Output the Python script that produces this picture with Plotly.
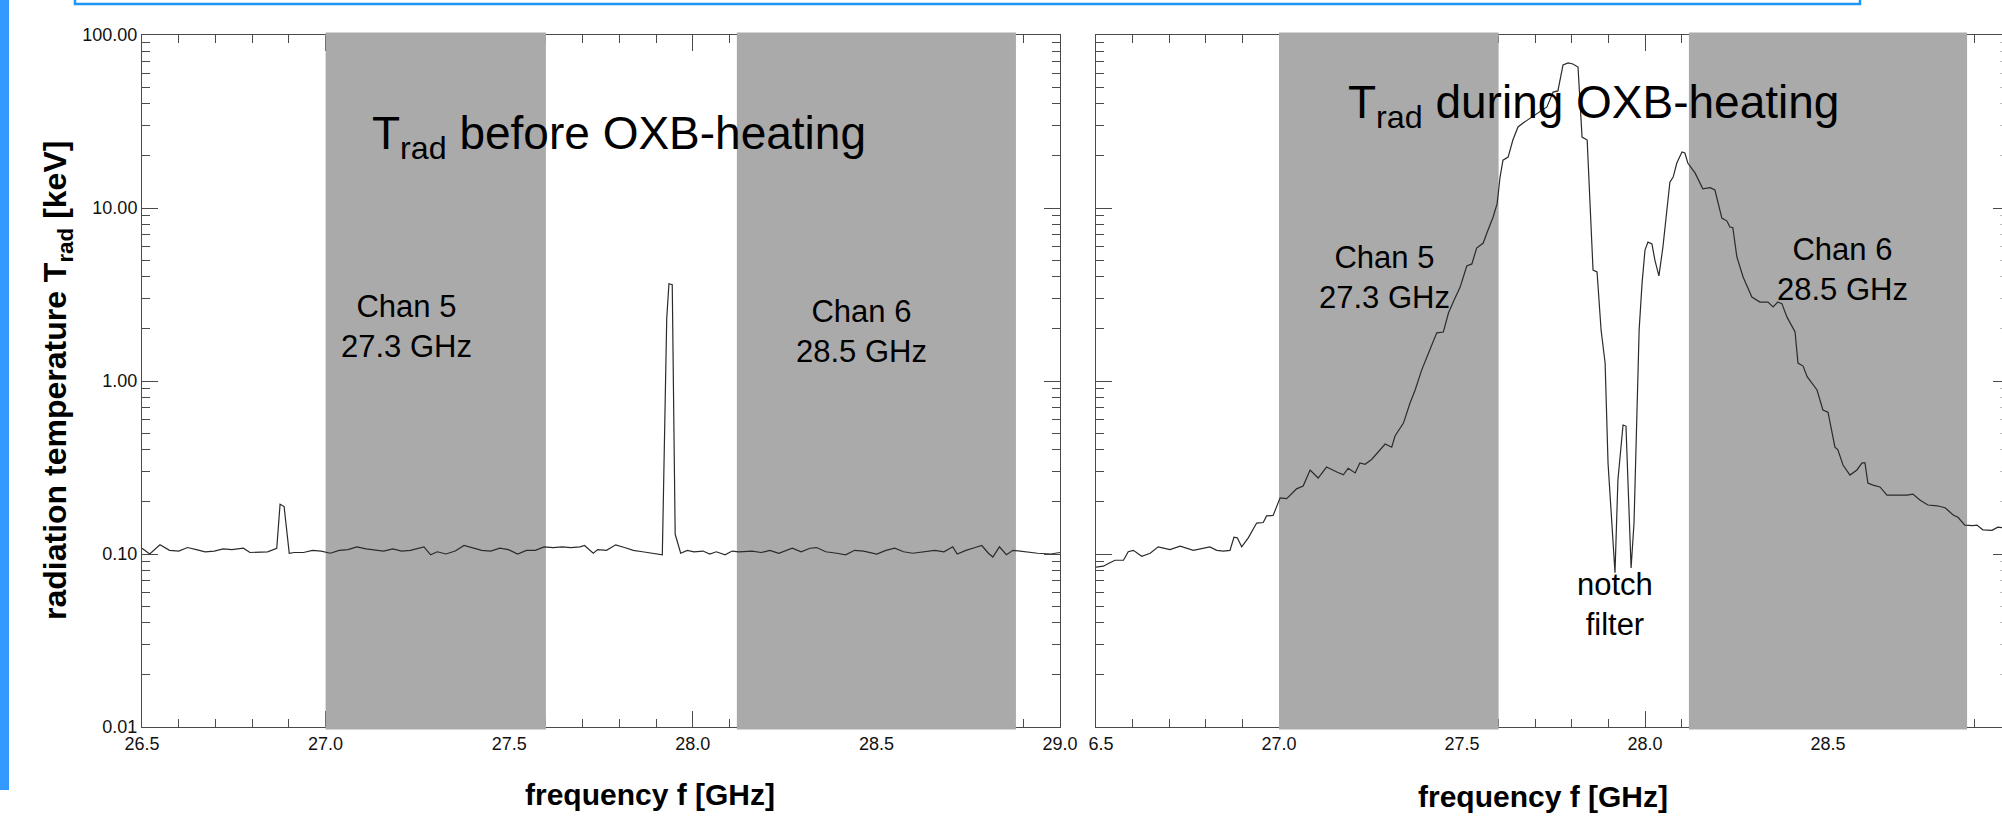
import plotly.graph_objects as go

# ---------------------------------------------------------------------------
# Radiometer spectra: radiation temperature vs. frequency
# ---------------------------------------------------------------------------
freq_before = [
    26.500, 26.521, 26.549, 26.575, 26.600, 26.624, 26.648, 26.672, 26.697, 26.721,
    26.745, 26.776, 26.794, 26.818, 26.842, 26.867, 26.876, 26.887, 26.901, 26.915,
    26.940, 26.964, 26.988, 27.013, 27.037, 27.061, 27.085, 27.110, 27.134, 27.158,
    27.183, 27.207, 27.231, 27.255, 27.268, 27.286, 27.304, 27.328, 27.353, 27.377,
    27.401, 27.425, 27.450, 27.474, 27.498, 27.523, 27.547, 27.571, 27.595, 27.620,
    27.644, 27.668, 27.693, 27.705, 27.729, 27.741, 27.765, 27.790, 27.814, 27.838,
    27.863, 27.887, 27.917, 27.929, 27.935, 27.944, 27.952, 27.967, 27.985, 28.003,
    28.028, 28.046, 28.064, 28.088, 28.107, 28.125, 28.161, 28.186, 28.210, 28.234,
    28.271, 28.295, 28.319, 28.337, 28.362, 28.392, 28.416, 28.441, 28.465, 28.501,
    28.526, 28.550, 28.574, 28.599, 28.635, 28.659, 28.684, 28.708, 28.720, 28.744,
    28.769, 28.787, 28.805, 28.817, 28.835, 28.854, 28.872, 28.902, 28.939, 28.975,
    29.000,
]
trad_before = [
    0.108, 0.100, 0.113, 0.105, 0.104, 0.109, 0.106, 0.103, 0.104, 0.107,
    0.106, 0.108, 0.102, 0.103, 0.103, 0.108, 0.194, 0.188, 0.101, 0.102,
    0.102, 0.105, 0.104, 0.101, 0.105, 0.106, 0.110, 0.107, 0.105, 0.104,
    0.107, 0.104, 0.105, 0.108, 0.110, 0.099, 0.103, 0.100, 0.104, 0.112,
    0.109, 0.105, 0.104, 0.108, 0.106, 0.100, 0.105, 0.105, 0.110, 0.109,
    0.110, 0.109, 0.110, 0.112, 0.101, 0.106, 0.105, 0.113, 0.109, 0.105,
    0.103, 0.101, 0.099, 2.300, 3.650, 3.600, 0.130, 0.101, 0.105, 0.103,
    0.104, 0.100, 0.103, 0.099, 0.104, 0.103, 0.104, 0.102, 0.105, 0.101,
    0.108, 0.103, 0.108, 0.109, 0.103, 0.101, 0.099, 0.105, 0.104, 0.100,
    0.105, 0.108, 0.103, 0.101, 0.104, 0.105, 0.103, 0.110, 0.100, 0.105,
    0.109, 0.112, 0.101, 0.096, 0.110, 0.099, 0.105, 0.103, 0.101, 0.100,
    0.102,
]

freq_during = [
    26.500, 26.520, 26.538, 26.552, 26.575, 26.588, 26.602, 26.625, 26.648, 26.670,
    26.702, 26.730, 26.766, 26.784, 26.811, 26.830, 26.848, 26.866, 26.877, 26.886,
    26.898, 26.916, 26.939, 26.957, 26.966, 26.984, 27.003, 27.021, 27.048, 27.066,
    27.085, 27.107, 27.130, 27.158, 27.176, 27.189, 27.208, 27.221, 27.235, 27.253,
    27.271, 27.290, 27.308, 27.317, 27.340, 27.358, 27.372, 27.390, 27.413, 27.431,
    27.449, 27.463, 27.476, 27.495, 27.513, 27.527, 27.540, 27.558, 27.568, 27.585,
    27.596, 27.604, 27.612, 27.626, 27.639, 27.653, 27.667, 27.686, 27.708, 27.732,
    27.749, 27.762, 27.776, 27.790, 27.803, 27.817, 27.828, 27.842, 27.858, 27.869,
    27.880, 27.891, 27.899, 27.910, 27.918, 27.926, 27.940, 27.948, 27.954, 27.962,
    27.970, 27.978, 27.984, 27.992, 28.000, 28.008, 28.019, 28.027, 28.038, 28.049,
    28.068, 28.077, 28.087, 28.101, 28.109, 28.117, 28.137, 28.158, 28.178, 28.191,
    28.210, 28.224, 28.232, 28.240, 28.251, 28.268, 28.292, 28.314, 28.336, 28.350,
    28.363, 28.374, 28.388, 28.410, 28.418, 28.432, 28.443, 28.470, 28.486, 28.500,
    28.519, 28.527, 28.541, 28.560, 28.579, 28.593, 28.601, 28.609, 28.623, 28.642,
    28.661, 28.689, 28.716, 28.732, 28.751, 28.773, 28.798, 28.820, 28.842, 28.855,
    28.874, 28.896, 28.907, 28.923, 28.948, 28.964, 28.975, 29.000,
]
trad_during = [
    0.084, 0.085, 0.089, 0.092, 0.092, 0.103, 0.105, 0.097, 0.101, 0.110,
    0.106, 0.111, 0.105, 0.107, 0.110, 0.105, 0.104, 0.105, 0.125, 0.124,
    0.110, 0.124, 0.151, 0.152, 0.166, 0.167, 0.211, 0.209, 0.238, 0.247,
    0.306, 0.275, 0.318, 0.298, 0.287, 0.313, 0.294, 0.336, 0.330, 0.352,
    0.389, 0.432, 0.414, 0.481, 0.571, 0.746, 0.887, 1.16, 1.53, 1.90,
    1.92, 2.47, 2.86, 3.49, 4.62, 4.75, 5.87, 6.27, 7.17, 8.87,
    10.6, 15.1, 18.9, 19.7, 24.7, 29.4, 31.0, 33.1, 35.4, 38.4,
    46.8, 47.5, 67.1, 68.9, 68.0, 65.3, 25.7, 24.7, 4.38, 4.27,
    1.97, 1.27, 0.336, 0.138, 0.078, 0.268, 0.557, 0.549, 0.268, 0.083,
    0.151, 0.653, 1.97, 3.68, 5.71, 6.35, 6.20, 5.00, 4.05, 5.95,
    14.1, 15.1, 18.2, 21.1, 20.8, 18.2, 15.9, 12.9, 13.1, 12.7,
    8.75, 8.40, 7.76, 7.70, 5.21, 3.99, 3.06, 2.86, 2.86, 2.68,
    2.86, 2.80, 2.34, 1.92, 1.27, 1.22, 1.06, 0.887, 0.680, 0.660,
    0.415, 0.400, 0.327, 0.286, 0.306, 0.336, 0.336, 0.257, 0.250, 0.244,
    0.219, 0.219, 0.219, 0.222, 0.205, 0.192, 0.190, 0.185, 0.168, 0.163,
    0.147, 0.146, 0.147, 0.138, 0.137, 0.143, 0.142, 0.140,
]

# Receiver channel passbands (GHz)
band_start = [27.0, 28.12]
band_end = [27.6, 28.88]

x_ticks = [26.5, 27.0, 27.5, 28.0, 28.5, 29.0]
y_ticks = [0.01, 0.1, 1, 10, 100]
y_tick_text = ["0.01", "0.10", "1.00", "10.00", "100.00"]
y_minor = [k * 10.0 ** e for e in range(-2, 2) for k in range(2, 10)]

# ---------------------------------------------------------------------------
W, H = 2002, 818
FONT = "Liberation Sans, Arial, Helvetica, sans-serif"
BAND = "#aaaaaa"
LINE = "#2b2b2b"
AX = "#4a4a4a"


def px(x):
    return x / W


def py(y):
    return 1 - y / H


y_dom = [py(727), py(35)]
left_dom = [px(142), px(1060)]
right_dom = [px(1096), 1.0]
right_xmax = 26.5 + (W - 1096) / 366.0

fig = go.Figure()

# grey passbands, drawn as filled traces so the curve sits on top of them
for xa, ya in (("x", "y"), ("x2", "y2")):
    for b0, b1 in zip(band_start, band_end):
        fig.add_trace(go.Scatter(
            x=[b0, b1, b1, b0, b0], y=[0.01, 0.01, 100, 100, 0.01],
            mode="lines", fill="toself", fillcolor=BAND,
            line=dict(width=0, color=BAND), hoverinfo="skip",
            showlegend=False, xaxis=xa, yaxis=ya))

fig.add_trace(go.Scatter(x=freq_before, y=trad_before, mode="lines",
                         line=dict(color=LINE, width=1.2), showlegend=False,
                         xaxis="x", yaxis="y"))
fig.add_trace(go.Scatter(x=freq_during, y=trad_during, mode="lines",
                         line=dict(color=LINE, width=1.2), showlegend=False,
                         xaxis="x2", yaxis="y2"))
# empty trace that carries the right-hand tick axis of the second panel
fig.add_trace(go.Scatter(x=[], y=[], showlegend=False, xaxis="x2", yaxis="y3"))

tickfont = dict(family=FONT, size=18, color="#111111")


def xaxis(domain, anchor, rng):
    return dict(
        domain=domain, anchor=anchor, range=rng, tickvals=x_ticks,
        tickformat=".1f", ticks="inside", ticklen=16, tickwidth=1, tickcolor=AX,
        minor=dict(dtick=0.1, tick0=26.5, ticks="inside", ticklen=8,
                   tickwidth=1, tickcolor=AX),
        showline=True, linecolor=AX, linewidth=1, mirror="ticks",
        showgrid=False, zeroline=False, tickfont=tickfont,
        layer="below traces", fixedrange=True, automargin=False)


def yaxis(anchor, labels, mirror):
    return dict(
        domain=y_dom, anchor=anchor, type="log", range=[-2, 2],
        tickvals=y_ticks, ticktext=y_tick_text, showticklabels=labels,
        ticks="inside", ticklen=16, tickwidth=1, tickcolor=AX,
        minor=dict(tickvals=y_minor, ticks="inside", ticklen=8,
                   tickwidth=1, tickcolor=AX),
        showline=True, linecolor=AX, linewidth=1, mirror=mirror,
        showgrid=False, zeroline=False, tickfont=tickfont,
        layer="below traces", fixedrange=True, automargin=False)


title_font = dict(family=FONT, size=46, color="#000000")
label_font = dict(family=FONT, size=31, color="#000000")
axis_font = dict(family=FONT, size=30, color="#000000")

annotations = [
    dict(text="T<sub>rad</sub> before OXB-heating", x=27.80, xref="x",
         y=py(136), yref="paper", font=title_font),
    dict(text="T<sub>rad</sub> during OXB-heating", x=27.86, xref="x2",
         y=py(106), yref="paper", font=title_font),
    dict(text="Chan 5<br>27.3 GHz", x=27.22, xref="x", y=py(326), yref="paper",
         font=label_font),
    dict(text="Chan 6<br>28.5 GHz", x=28.46, xref="x", y=py(331), yref="paper",
         font=label_font),
    dict(text="Chan 5<br>27.3 GHz", x=27.287, xref="x2", y=py(277), yref="paper",
         font=label_font),
    dict(text="Chan 6<br>28.5 GHz", x=28.54, xref="x2", y=py(269), yref="paper",
         font=label_font),
    dict(text="notch<br>filter", x=27.918, xref="x2", y=py(604), yref="paper",
         font=label_font),
    dict(text="<b>frequency f [GHz]</b>", x=px(650), xref="paper",
         y=py(794), yref="paper", font=axis_font),
    dict(text="<b>frequency f [GHz]</b>", x=px(1543), xref="paper",
         y=py(796), yref="paper", font=axis_font),
    dict(text="<b>radiation temperature T<sub>rad</sub> [keV]</b>", x=px(58),
         xref="paper", y=py(381), yref="paper", textangle=-90,
         font=dict(family=FONT, size=32, color="#000000")),
]
for a in annotations:
    a.update(showarrow=False, xanchor="center", yanchor="middle")

shapes = [
    # blue slide frame pieces
    dict(type="rect", xref="paper", yref="paper", x0=-0.01, x1=px(9),
         y0=py(790), y1=1.05, fillcolor="#3399ff", line=dict(width=0),
         layer="above"),
    dict(type="rect", xref="paper", yref="paper", x0=px(75), x1=px(1860),
         y0=py(4), y1=1.05, fillcolor="rgba(0,0,0,0)",
         line=dict(color="#1e96f5", width=2.5), layer="above"),
    # the second panel's first tick label is partly hidden under the first panel
    dict(type="rect", xref="paper", yref="paper", x0=px(1079), x1=px(1088.5),
         y0=py(756), y1=py(731), fillcolor="#ffffff", line=dict(width=0),
         layer="above"),
]
# the passbands run over the top and bottom frame lines
for xr in ("x", "x2"):
    for b0, b1 in zip(band_start, band_end):
        for top, bottom in ((32.5, 36.5), (725.5, 729.5)):
            shapes.append(dict(type="rect", xref=xr, yref="paper", x0=b0, x1=b1,
                               y0=py(bottom), y1=py(top), fillcolor=BAND,
                               line=dict(width=0), layer="above"))

fig.update_layout(
    width=W, height=H, autosize=False,
    margin=dict(l=0, r=0, t=0, b=0, pad=0, autoexpand=False),
    paper_bgcolor="#ffffff", plot_bgcolor="#ffffff",
    showlegend=False,
    xaxis=xaxis(left_dom, "y", [26.5, 29.0]),
    yaxis=yaxis("x", True, "ticks"),
    xaxis2=xaxis(right_dom, "y2", [26.5, right_xmax]),
    yaxis2=yaxis("x2", False, False),
    yaxis3=dict(overlaying="y2", anchor="x2", side="right", type="log",
                range=[-2, 2], tickvals=y_ticks, showticklabels=False,
                ticks="inside", ticklen=9, tickwidth=1, tickcolor=AX,
                minor=dict(tickvals=y_minor, ticks="inside", ticklen=2,
                           tickwidth=1, tickcolor="#bbbbbb"),
                showline=False, showgrid=False, zeroline=False,
                fixedrange=True, automargin=False),
    annotations=annotations,
    shapes=shapes,
)

# keep the figure flush with the page corner
page_css = (
    "document.documentElement.style.margin='0';"
    "document.body.style.margin='0';"
    "document.body.style.overflow='hidden';"
)
fig.write_html("out.html", config=dict(displayModeBar=False, staticPlot=True),
               post_script=page_css)
